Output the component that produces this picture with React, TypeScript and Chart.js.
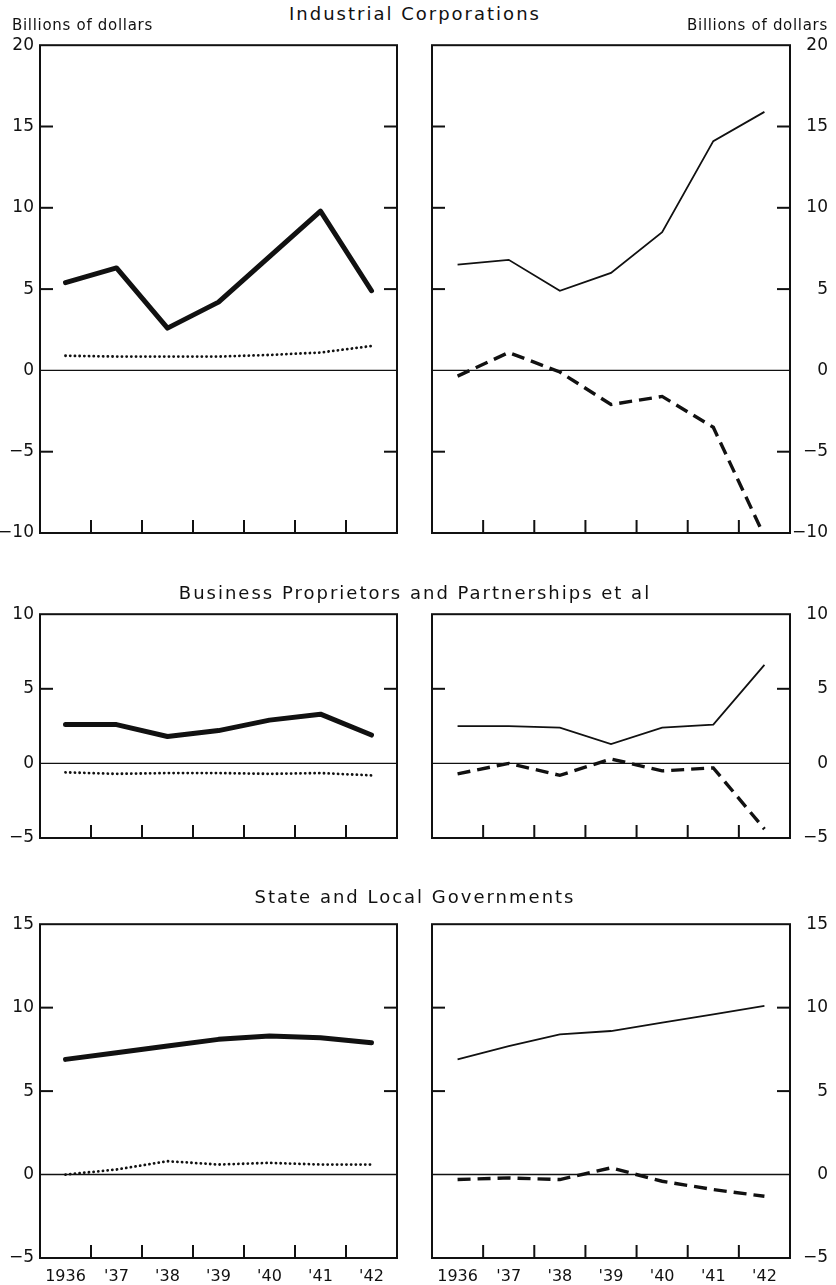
import React, { useEffect, useRef } from "react";
import { Chart, registerables } from "chart.js";
Chart.register(...registerables);

const FONT = "DejaVu Sans";

const years = ["1936", "'37", "'38", "'39", "'40", "'41", "'42"];

const titles = [
  "Industrial Corporations",
  "Business Proprietors and Partnerships et al",
  "State and Local Governments",
];
const unitLabel = "Billions of dollars";

// Industrial Corporations
const indLeftSolid = [5.4, 6.3, 2.6, 4.2, 7.0, 9.8, 4.9];
const indLeftDotted = [0.9, 0.85, 0.85, 0.85, 0.95, 1.1, 1.5];
const indRightSolid = [6.5, 6.8, 4.9, 6.0, 8.5, 14.1, 15.9];
const indRightDashed = [-0.35, 1.1, -0.1, -2.1, -1.6, -3.5, -10.2];

// Business Proprietors and Partnerships et al
const busLeftSolid = [2.6, 2.6, 1.8, 2.2, 2.9, 3.3, 1.9];
const busLeftDotted = [-0.6, -0.7, -0.65, -0.65, -0.7, -0.65, -0.8];
const busRightSolid = [2.5, 2.5, 2.4, 1.3, 2.4, 2.6, 6.6];
const busRightDashed = [-0.7, 0.0, -0.8, 0.3, -0.5, -0.3, -4.4];

// State and Local Governments
const slgLeftSolid = [6.9, 7.3, 7.7, 8.1, 8.3, 8.2, 7.9];
const slgLeftDotted = [0.0, 0.3, 0.8, 0.6, 0.7, 0.6, 0.6];
const slgRightSolid = [6.9, 7.7, 8.4, 8.6, 9.1, 9.6, 10.1];
const slgRightDashed = [-0.3, -0.2, -0.3, 0.4, -0.4, -0.9, -1.3];

const rowRanges = [
  { min: -10, max: 20 },
  { min: -5, max: 10 },
  { min: -5, max: 15 },
];

// layout (page pixels)
const rowGeom = [
  { top: 43, bottom: 560 },
  { top: 612, bottom: 865 },
  { top: 922, bottom: 1258 },
];
const titleY = [14, 593, 897];

const thick = (d: number[]) => ({
  data: d,
  borderColor: "#111",
  borderWidth: 5,
  pointRadius: 0,
  tension: 0,
  borderJoinStyle: "round" as const,
  borderCapStyle: "round" as const,
});
const dotted = (d: number[]) => ({
  data: d,
  borderColor: "#111",
  borderWidth: 2.8,
  borderDash: [0.1, 4.6],
  borderCapStyle: "round" as const,
  pointRadius: 0,
  tension: 0,
});
const thin = (d: number[]) => ({
  data: d,
  borderColor: "#111",
  borderWidth: 1.8,
  pointRadius: 0,
  tension: 0,
});
const dashed = (d: number[]) => ({
  data: d,
  borderColor: "#111",
  borderWidth: 3.4,
  borderDash: [13, 7],
  pointRadius: 0,
  tension: 0,
});

const panels = [
  { row: 0, side: "left", ds: [thick(indLeftSolid), dotted(indLeftDotted)] },
  { row: 0, side: "right", ds: [thin(indRightSolid), dashed(indRightDashed)] },
  { row: 1, side: "left", ds: [thick(busLeftSolid), dotted(busLeftDotted)] },
  { row: 1, side: "right", ds: [thin(busRightSolid), dashed(busRightDashed)] },
  { row: 2, side: "left", ds: [thick(slgLeftSolid), dotted(slgLeftDotted)] },
  { row: 2, side: "right", ds: [thin(slgRightSolid), dashed(slgRightDashed)] },
];

const fmt = (v: any) => {
  const n = Number(v);
  return n < 0 ? "\u2212" + Math.abs(n) : String(n);
};

const framePlugin = {
  id: "frame",
  beforeDatasetsDraw(chart: any) {
    const { ctx, chartArea: a, scales } = chart;
    const x = scales.x;
    const y = scales.y;
    const ln = (x1: number, y1: number, x2: number, y2: number) => {
      ctx.beginPath();
      ctx.moveTo(x1, y1);
      ctx.lineTo(x2, y2);
      ctx.stroke();
    };
    ctx.save();
    ctx.strokeStyle = "#111";
    ctx.lineCap = "butt";
    ctx.lineWidth = 1.4;
    const y0 = y.getPixelForValue(0);
    ln(a.left, y0, a.right, y0);
    ctx.lineWidth = 2;
    ctx.strokeRect(a.left, a.top, a.right - a.left, a.bottom - a.top);
    y.ticks.forEach((t: any) => {
      if (t.value === y.min || t.value === y.max || t.value === 0) return;
      const py = y.getPixelForValue(t.value);
      ln(a.left, py, a.left + 13, py);
      ln(a.right - 13, py, a.right, py);
    });
    for (let i = 1; i < years.length; i++) {
      const px = (x.getPixelForValue(i - 1) + x.getPixelForValue(i)) / 2;
      ln(px, a.bottom, px, a.bottom - 13);
    }
    ctx.restore();
  },
};

function Panel({ row, side, ds }: any) {
  const ref = useRef<HTMLCanvasElement>(null);
  const g = rowGeom[row];
  const showX = row === 2;
  const padTop = 14;
  const xH = 27;
  const canvasTop = g.top - padTop;
  const height = g.bottom - g.top + padTop + (showX ? xH : 9);
  const isLeft = side === "left";
  const canvasLeft = isLeft ? 0 : 420;
  const width = isLeft ? 420 : 416;

  useEffect(() => {
    const rng = rowRanges[row];
    const chart = new Chart(ref.current as HTMLCanvasElement, {
      type: "line",
      data: { labels: years, datasets: ds },
      options: {
        animation: false,
        responsive: false,
        devicePixelRatio: 1,
        layout: {
          padding: isLeft
            ? { left: 0, right: 23, top: padTop, bottom: showX ? 0 : 9 }
            : { left: 12, right: 8, top: padTop, bottom: showX ? 0 : 9 },
        },
        plugins: {
          legend: { display: false },
          tooltip: { enabled: false },
        },
        scales: {
          x: {
            type: "category",
            offset: true,
            display: showX,
            grid: { display: false, drawTicks: false },
            border: { display: false },
            ticks: {
              color: "#111",
              font: { family: FONT, size: 16 },
              padding: 9,
              maxRotation: 0,
              autoSkip: false,
            },
            afterFit: (s: any) => {
              s.height = xH;
            },
          },
          y: {
            position: isLeft ? "left" : "right",
            min: rng.min,
            max: rng.max,
            grid: { display: false, drawTicks: false },
            border: { display: false },
            ticks: {
              stepSize: 5,
              color: "#111",
              font: { family: FONT, size: 17 },
              padding: 6,
              crossAlign: isLeft ? "near" : "far",
              callback: fmt,
            },
            afterFit: (s: any) => {
              s.width = isLeft ? 40 : 38;
            },
          },
        },
      },
      plugins: [framePlugin],
    } as any);
    return () => chart.destroy();
  }, []);

  return (
    <canvas
      ref={ref}
      width={width}
      height={height}
      style={{ position: "absolute", left: canvasLeft, top: canvasTop, width, height }}
    />
  );
}

export default function App() {
  const titleStyle = (y: number): React.CSSProperties => ({
    position: "absolute",
    left: 0,
    width: 830,
    top: y - 12,
    height: 24,
    lineHeight: "24px",
    textAlign: "center",
    fontSize: 18,
    letterSpacing: 2,
    fontFamily: FONT,
    color: "#111",
    whiteSpace: "nowrap",
  });
  const unitStyle: React.CSSProperties = {
    position: "absolute",
    top: 15,
    height: 20,
    lineHeight: "20px",
    fontSize: 15,
    letterSpacing: 0.7,
    fontFamily: FONT,
    color: "#111",
    whiteSpace: "nowrap",
  };
  return (
    <div
      style={{
        position: "absolute",
        left: 0,
        top: 0,
        width: 836,
        height: 1285,
        background: "#fff",
        overflow: "hidden",
      }}
    >
      {panels.map((p, i) => (
        <Panel key={i} row={p.row} side={p.side} ds={p.ds} />
      ))}
      {titles.map((t, i) => (
        <div key={t} style={titleStyle(titleY[i])}>
          {t}
        </div>
      ))}
      <div style={{ ...unitStyle, left: 12 }}>{unitLabel}</div>
      <div style={{ ...unitStyle, right: 8, textAlign: "right" }}>{unitLabel}</div>
    </div>
  );
}
